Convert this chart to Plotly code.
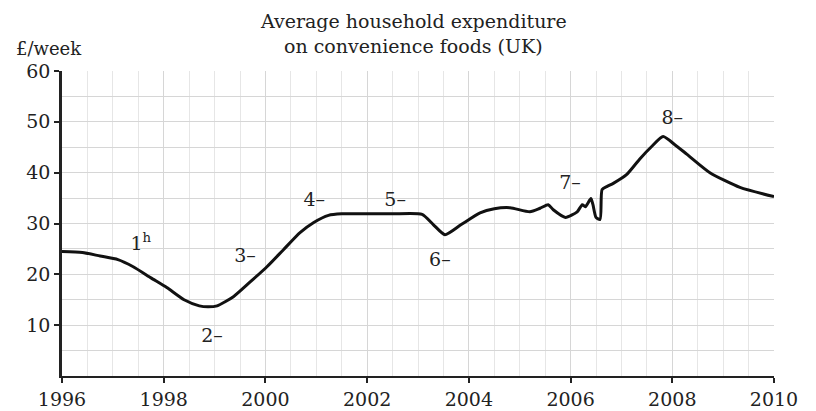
import plotly.graph_objects as go

years = [1996.0, 1996.4, 1996.75, 1997.1, 1997.4, 1997.75, 1998.06, 1998.4, 1998.7, 1998.87,
         1999.05, 1999.37, 1999.7, 2000.03, 2000.35, 2000.68, 2000.95, 2001.24, 2001.5, 2002.0,
         2002.5, 2003.08, 2003.3, 2003.53, 2003.85, 2004.22, 2004.5, 2004.81, 2005.2, 2005.4,
         2005.56, 2005.66, 2005.9, 2006.13, 2006.23, 2006.29, 2006.4, 2006.44, 2006.5, 2006.58,
         2006.62, 2006.72, 2006.84, 2007.1, 2007.37, 2007.6, 2007.82, 2008.05, 2008.29, 2008.74,
         2009.33, 2010.0]
spend = [24.5, 24.3, 23.6, 22.9, 21.5, 19.3, 17.4, 15.0, 13.8, 13.6,
         13.8, 15.6, 18.5, 21.5, 24.8, 28.2, 30.2, 31.6, 31.9, 31.9,
         31.9, 31.8, 29.8, 27.8, 29.8, 32.1, 32.9, 33.1, 32.3, 33.0,
         33.7, 32.7, 31.2, 32.3, 33.7, 33.3, 34.9, 33.7, 31.2, 30.8,
         36.7, 37.3, 37.9, 39.6, 42.8, 45.2, 47.1, 45.5, 43.6, 40.0,
         37.1, 35.3]

label_text = ["1<sup>h</sup>", "2–", "3–", "4–", "5–", "6–", "7–", "8–"]
label_x = [1997.55, 1998.95, 1999.6, 2000.96, 2002.55, 2003.43, 2005.99, 2008.0]
label_y = [25.8, 7.7, 23.3, 34.3, 34.3, 22.5, 37.7, 50.5]

x_ticks = [1996, 1998, 2000, 2002, 2004, 2006, 2008, 2010]
y_ticks = [10, 20, 30, 40, 50, 60]

serif = "DejaVu Serif, serif"
ink = "#222222"

fig = go.Figure()
fig.add_trace(go.Scatter(
    x=years, y=spend, mode="lines",
    line=dict(color="#111111", width=3, shape="spline", smoothing=0.6),
    hoverinfo="skip", showlegend=False))

fig.add_trace(go.Scatter(
    x=label_x, y=label_y, mode="text", text=label_text,
    textfont=dict(family=serif, size=19, color=ink),
    showlegend=False, hoverinfo="skip"))

fig.update_layout(
    width=808, height=403,
    margin=dict(l=54, r=42, t=63, b=35, autoexpand=False),
    paper_bgcolor="white", plot_bgcolor="white",
    font=dict(family=serif, size=19, color=ink),
    xaxis=dict(range=[1996, 2010], tickvals=x_ticks, ticktext=[str(t) for t in x_ticks],
               automargin=False,
               showgrid=True, gridcolor="#d6d6d6", gridwidth=1,
               showline=True, linecolor=ink, linewidth=2,
               ticks="outside", ticklen=5, tickcolor=ink, tickwidth=1.5,
               zeroline=False,
               minor=dict(dtick=0.5, showgrid=True, gridcolor="#e6e6e6", gridwidth=1),
               tickfont=dict(family=serif, size=19, color=ink)),
    yaxis=dict(range=[0, 60], tickvals=y_ticks, ticktext=[str(t) for t in y_ticks],
               automargin=False,
               showgrid=True, gridcolor="#d6d6d6", gridwidth=1,
               showline=True, linecolor=ink, linewidth=2.5,
               ticks="outside", ticklen=5, tickcolor=ink, tickwidth=1.5,
               zeroline=False,
               minor=dict(dtick=5, showgrid=True, gridcolor="#d6d6d6", gridwidth=1),
               tickfont=dict(family=serif, size=19, color=ink)),
    annotations=[
        dict(text="Average household expenditure", xref="paper", yref="paper",
             x=0.493, y=1.164, showarrow=False, xanchor="center", yanchor="middle",
             font=dict(family=serif, size=19, color=ink)),
        dict(text="on convenience foods (UK)", xref="paper", yref="paper",
             x=0.493, y=1.083, showarrow=False, xanchor="center", yanchor="middle",
             font=dict(family=serif, size=19, color=ink)),
        dict(text="£/week", xref="paper", yref="paper",
             x=-0.018, y=1.075, showarrow=False, xanchor="center", yanchor="middle",
             font=dict(family=serif, size=18, color=ink)),
    ],
)

fig.write_html("out.html")
